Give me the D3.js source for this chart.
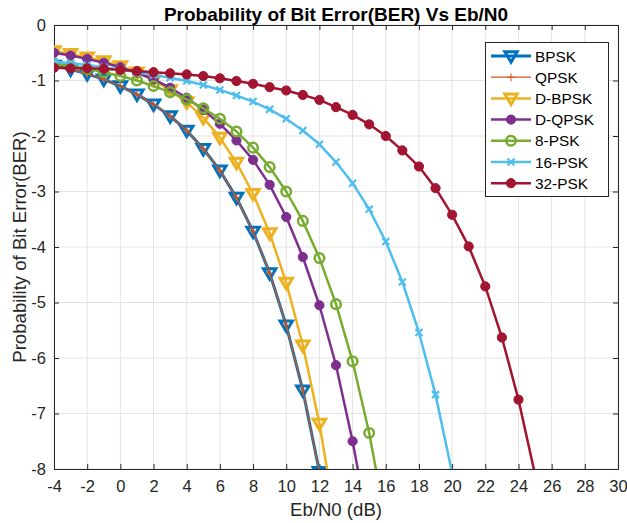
<!DOCTYPE html>
<html><head><meta charset="utf-8">
<script src="https://cdn.jsdelivr.net/npm/d3@7"></script>
<style>body{margin:0;background:#fff}svg{display:block}text{font-family:"Liberation Sans",Arial,sans-serif}</style>
</head><body><svg id="c" width="627" height="523"></svg>
<script>
const ebn0 = [-4,-3,-2,-1,0,1,2,3,4,5,6,7,8,9,10,11,12,13,14,15,16,17,18,19,20,21,22,23,24,25];
const bpsk  = [-0.73,-0.80,-0.88,-0.98,-1.10,-1.25,-1.43,-1.64,-1.90,-2.23,-2.62,-3.11,-3.72,-4.47,-5.41,-6.58,-8.05];
const qpsk  = [-0.73,-0.80,-0.88,-0.98,-1.10,-1.25,-1.43,-1.64,-1.90,-2.23,-2.62,-3.11,-3.72,-4.47,-5.41,-6.58,-8.05];
const dbpsk = [-0.47,-0.52,-0.58,-0.65,-0.74,-0.85,-0.99,-1.17,-1.39,-1.67,-2.03,-2.48,-3.04,-3.75,-4.64,-5.77,-7.18,-8.97];
const dqpsk = [-0.50,-0.55,-0.61,-0.68,-0.76,-0.86,-0.98,-1.13,-1.31,-1.53,-1.78,-2.08,-2.43,-2.88,-3.46,-4.18,-5.05,-6.13,-7.50,-9.10];
const psk8  = [-0.70,-0.74,-0.79,-0.85,-0.92,-1.00,-1.10,-1.21,-1.34,-1.50,-1.69,-1.92,-2.21,-2.56,-3.00,-3.53,-4.20,-5.03,-6.06,-7.35,-8.96];
const psk16 = [-0.66,-0.69,-0.72,-0.76,-0.80,-0.85,-0.90,-0.95,-1.01,-1.08,-1.17,-1.27,-1.38,-1.52,-1.69,-1.90,-2.15,-2.47,-2.85,-3.32,-3.90,-4.63,-5.54,-6.66,-8.07];
const psk32 = [-0.77,-0.78,-0.78,-0.79,-0.81,-0.83,-0.85,-0.87,-0.89,-0.92,-0.96,-1.01,-1.06,-1.12,-1.18,-1.26,-1.35,-1.48,-1.62,-1.79,-2.00,-2.26,-2.55,-2.94,-3.42,-3.99,-4.71,-5.63,-6.75,-8.10];
const seriesNames = ["BPSK","QPSK","D-BPSK","D-QPSK","8-PSK","16-PSK","32-PSK"];
const xTicks = [-4,-2,0,2,4,6,8,10,12,14,16,18,20,22,24,26,28,30];
const yTicks = [0,-1,-2,-3,-4,-5,-6,-7,-8];

const series = [
  {name:seriesNames[0], vals:bpsk, color:"#0072BD", lw:3, marker:"tri"},
  {name:seriesNames[1], vals:qpsk, color:"#D95319", lw:1.2, marker:"plus"},
  {name:seriesNames[2], vals:dbpsk, color:"#EDB120", lw:2.5, marker:"tri"},
  {name:seriesNames[3], vals:dqpsk, color:"#7E2F8E", lw:2.5, marker:"dot"},
  {name:seriesNames[4], vals:psk8, color:"#77AC30", lw:2.5, marker:"ring"},
  {name:seriesNames[5], vals:psk16, color:"#4DBEEE", lw:2.5, marker:"x"},
  {name:seriesNames[6], vals:psk32, color:"#A2142F", lw:2.5, marker:"dot"}
];

const L=54, R=618, T=25, B=469;
const x = d3.scaleLinear().domain([-4,30]).range([L,R]);
const y = d3.scaleLinear().domain([-8,0]).range([B,T]);
const svg = d3.select("#c");
const axisCol = "#262626";

svg.append("rect").attr("x",L).attr("y",T).attr("width",R-L).attr("height",B-T).attr("fill","#fff");
// grid
svg.append("g").selectAll("line").data(xTicks).join("line")
  .attr("x1",d=>x(d)).attr("x2",d=>x(d)).attr("y1",T).attr("y2",B)
  .attr("stroke","#e3e3e3").attr("stroke-width",1);
svg.append("g").selectAll("line").data(yTicks).join("line")
  .attr("y1",d=>y(d)).attr("y2",d=>y(d)).attr("x1",L).attr("x2",R)
  .attr("stroke","#e3e3e3").attr("stroke-width",1);

// axes
const xAxB = d3.axisBottom(x).tickValues(xTicks).tickSize(-5).tickPadding(11).tickFormat(d=>d);
const xAxT = d3.axisTop(x).tickValues(xTicks).tickSize(-5).tickFormat("");
const yAxL = d3.axisLeft(y).tickValues(yTicks).tickSize(-5).tickPadding(8).tickFormat(d=>d);
const yAxR = d3.axisRight(y).tickValues(yTicks).tickSize(-5).tickFormat("");
function style(g){g.select(".domain").attr("stroke",axisCol);g.selectAll(".tick line").attr("stroke",axisCol);
  g.selectAll("text").attr("fill",axisCol).style("font-size","16.5px").style("font-family","'Liberation Sans',Arial,sans-serif");}
svg.append("g").attr("transform",`translate(0,${B})`).call(xAxB).call(style);
svg.append("g").attr("transform",`translate(0,${T})`).call(xAxT).call(style);
svg.append("g").attr("transform",`translate(${L},0)`).call(yAxL).call(style);
svg.append("g").attr("transform",`translate(${R},0)`).call(yAxR).call(style);

// clip
svg.append("clipPath").attr("id","clip").append("rect").attr("x",L).attr("y",T).attr("width",R-L).attr("height",B-T);
const plot = svg.append("g").attr("clip-path","url(#clip)");

function drawMarker(g, type, color, cx, cy){
  if(type==="tri"){
    g.append("path").attr("d",`M${cx-6.2},${cy-4.3}L${cx+6.2},${cy-4.3}L${cx},${cy+6.2}Z`)
      .attr("fill","none").attr("stroke",color).attr("stroke-width",3).attr("stroke-linejoin","miter");
  } else if(type==="plus"){
    g.append("path").attr("d",`M${cx-4},${cy}H${cx+4}M${cx},${cy-4}V${cy+4}`).attr("stroke",color).attr("stroke-width",1);
  } else if(type==="dot"){
    g.append("circle").attr("cx",cx).attr("cy",cy).attr("r",4.6).attr("fill",color).attr("stroke",color).attr("stroke-width",1);
  } else if(type==="ring"){
    g.append("circle").attr("cx",cx).attr("cy",cy).attr("r",4.8).attr("fill","none").attr("stroke",color).attr("stroke-width",2.5);
  } else if(type==="x"){
    g.append("path").attr("d",`M${cx-3.5},${cy-3.5}L${cx+3.5},${cy+3.5}M${cx-3.5},${cy+3.5}L${cx+3.5},${cy-3.5}`)
      .attr("stroke",color).attr("stroke-width",2.2);
  }
}

const line = d3.line().x(d=>x(d[0])).y(d=>y(d[1]));
series.forEach(s=>{
  const pts = s.vals.map((v,i)=>[ebn0[i],v]);
  const g = plot.append("g");
  g.append("path").datum(pts).attr("d",line).attr("fill","none").attr("stroke",s.color)
    .attr("stroke-width",s.lw).attr("stroke-linejoin","round");
  pts.forEach(p=>drawMarker(g,s.marker,s.color,x(p[0]),y(p[1])));
});

// legend
const lg = svg.append("g");
lg.append("rect").attr("x",485.5).attr("y",42.5).attr("width",123).attr("height",154)
  .attr("fill","#fff").attr("stroke","#262626").attr("stroke-width",1);
series.forEach((s,i)=>{
  const yy = 56 + i*21.2;
  lg.append("line").attr("x1",491).attr("x2",531).attr("y1",yy).attr("y2",yy)
    .attr("stroke",s.color).attr("stroke-width",s.lw);
  drawMarker(lg,s.marker,s.color,511,yy);
  lg.append("text").attr("x",535).attr("y",yy).attr("dy","0.36em").attr("fill","#000")
    .style("font-size","15.4px").text(s.name);
});

// labels
svg.append("text").attr("x",(L+R)/2).attr("y",20.5).attr("text-anchor","middle")
  .style("font-size","19px").style("font-weight","bold").attr("fill","#000")
  .text("Probability of Bit Error(BER) Vs Eb/N0");
svg.append("text").attr("x",(L+R)/2).attr("y",516).attr("text-anchor","middle")
  .style("font-size","18.6px").attr("fill",axisCol).text("Eb/N0 (dB)");
svg.append("text").attr("transform",`translate(26,${(T+B)/2}) rotate(-90)`).attr("text-anchor","middle")
  .style("font-size","18.6px").attr("fill",axisCol).text("Probability of Bit Error(BER)");
</script></body></html>
